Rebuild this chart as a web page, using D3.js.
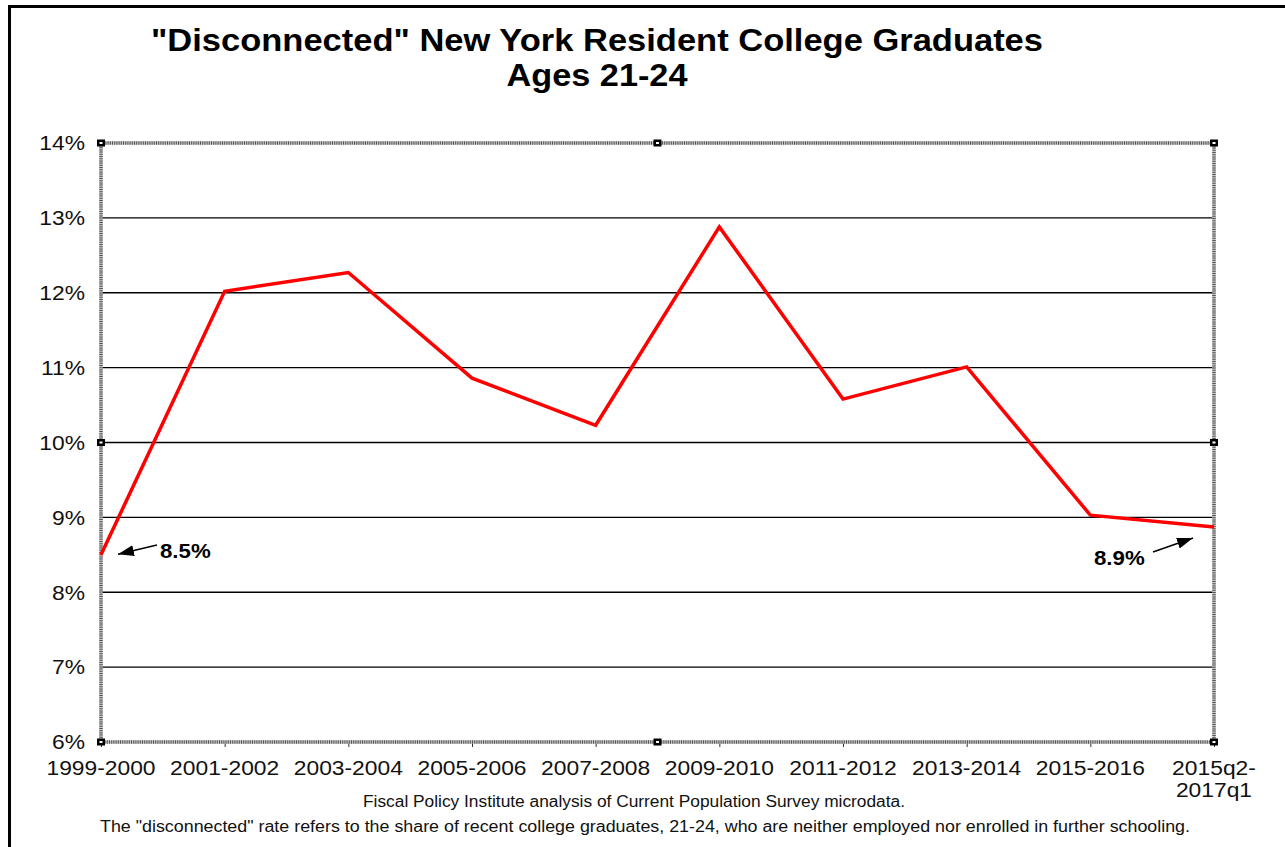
<!DOCTYPE html>
<html><head><meta charset="utf-8">
<script src="https://cdn.jsdelivr.net/npm/d3@7"></script>
<style>body{margin:0;background:#fff}svg{display:block}text{font-family:"Liberation Sans",Arial,Helvetica,sans-serif}</style>
</head><body><svg id="c" width="1285" height="847"></svg>
<script>
const categories = ["1999-2000","2001-2002","2003-2004","2005-2006","2007-2008","2009-2010","2011-2012","2013-2014","2015-2016","2015q2-2017q1"];
const rates = [8.5, 12.02, 12.27, 10.86, 10.23, 12.88, 10.58, 11.01, 9.03, 8.87];
const yTicks = [6,7,8,9,10,11,12,13,14];
const titleLines = ["\"Disconnected\" New York Resident College Graduates","Ages 21-24"];
const footerLines = ["Fiscal Policy Institute analysis of Current Population Survey microdata.",
 "The \"disconnected\" rate refers to the share of recent college graduates, 21-24, who are neither employed nor enrolled in further schooling."];

const svg = d3.select("#c");
const L=101, R=1214, T=143, B=742;
const x = d3.scalePoint().domain(categories).range([L,R]);
const y = d3.scaleLinear().domain([6,14]).range([B,T]);

// stretch text horizontally by factor (reference font renders wider)
function stretch(sel, f){
  sel.each(function(){
    const w = this.getComputedTextLength();
    d3.select(this).attr("textLength", w*f).attr("lengthAdjust","spacingAndGlyphs");
  });
}

// outer frame (top and left)
svg.append("path").attr("d","M9.5,847 V6.5 H1285").attr("fill","none").attr("stroke","#000").attr("stroke-width",3);

// title
svg.append("text").attr("x",597).attr("y",51).attr("text-anchor","middle").attr("font-weight","bold").attr("font-size",30.5)
 .attr("textLength",892).attr("lengthAdjust","spacingAndGlyphs").text(titleLines[0]);
svg.append("text").attr("x",597).attr("y",86).attr("text-anchor","middle").attr("font-weight","bold").attr("font-size",30.5)
 .attr("textLength",181).attr("lengthAdjust","spacingAndGlyphs").text(titleLines[1]);

// gridlines
svg.append("g").selectAll("line").data(yTicks.filter(d=>d>6&&d<14)).join("line")
 .attr("x1",L).attr("x2",R).attr("y1",d=>y(d)).attr("y2",d=>y(d)).attr("stroke","#000").attr("stroke-width",1.4);

// x axis ticks
const xAxis = svg.append("g").attr("transform",`translate(0,${B})`)
 .call(d3.axisBottom(x).tickSize(5).tickFormat(""));
xAxis.select(".domain").remove();
xAxis.selectAll("line").attr("stroke","#333");

// hatched plot border
svg.append("rect").attr("x",L).attr("y",T).attr("width",R-L).attr("height",B-T).attr("fill","none")
 .attr("stroke","#c4c4c4").attr("stroke-width",3.5);
svg.append("rect").attr("x",L).attr("y",T).attr("width",R-L).attr("height",B-T).attr("fill","none")
 .attr("stroke","#555").attr("stroke-width",3.5).attr("stroke-dasharray","1,1.2");

// y axis labels
const yAxis = svg.append("g").attr("transform",`translate(${L},0)`)
 .call(d3.axisLeft(y).tickValues(yTicks).tickFormat(d=>d+"%").tickSize(0).tickPadding(16));
yAxis.select(".domain").remove();
yAxis.selectAll("text").attr("font-size",19.5).attr("fill","#111").attr("font-family","Liberation Sans, Arial, sans-serif").attr("dy","0.35em");
stretch(yAxis.selectAll("text"), 1.17);

// x labels
const xl = svg.append("g");
categories.forEach(c=>{
  const parts = c==="2015q2-2017q1" ? ["2015q2-","2017q1"] : [c];
  parts.forEach((p,i)=>{
    xl.append("text").attr("x",x(c)).attr("y",775+i*22).attr("text-anchor","middle").attr("font-size",19.5).attr("fill","#111").text(p);
  });
});
stretch(xl.selectAll("text"), 1.17);

// handles
const handles = [[L,T],[(L+R)/2,T],[R,T],[R,(T+B)/2],[R,B],[(L+R)/2,B],[L,B],[L,(T+B)/2]];
const hg = svg.append("g");
hg.selectAll("rect.h").data(handles).join("rect").attr("class","h")
 .attr("x",d=>d[0]-4).attr("y",d=>d[1]-3.5).attr("width",8).attr("height",7).attr("fill","#000");
hg.selectAll("rect.i").data(handles).join("rect").attr("class","i")
 .attr("x",d=>d[0]-1.5).attr("y",d=>d[1]-1).attr("width",3).attr("height",2).attr("fill","#fff");

// line
svg.append("path").datum(rates).attr("fill","none").attr("stroke","#ff0000").attr("stroke-width",3.5)
 .attr("stroke-linejoin","miter")
 .attr("d",d3.line().x((d,i)=>x(categories[i])).y(d=>y(d)));

// annotations
const defs = svg.append("defs");
defs.append("marker").attr("id","ah").attr("viewBox","0 0 16 11").attr("refX",16).attr("refY",5.5)
 .attr("markerWidth",16).attr("markerHeight",11).attr("markerUnits","userSpaceOnUse").attr("orient","auto")
 .append("path").attr("d","M0,0 L16,5.5 L0,11 Z").attr("fill","#000");
const first = rates[0], last = rates[rates.length-1];
svg.append("line").attr("x1",157).attr("y1",545).attr("x2",x(categories[0])+17).attr("y2",y(first)-0.5)
 .attr("stroke","#000").attr("stroke-width",1.5).attr("marker-end","url(#ah)");
const a1 = svg.append("text").attr("x",160).attr("y",558).attr("font-weight","bold").attr("font-size",19.5).text(first.toFixed(1)+"%");
svg.append("line").attr("x1",1153).attr("y1",552).attr("x2",1193).attr("y2",538)
 .attr("stroke","#000").attr("stroke-width",1.5).attr("marker-end","url(#ah)");
const a2 = svg.append("text").attr("x",1094).attr("y",565).attr("font-weight","bold").attr("font-size",19.5).text(last.toFixed(1)+"%");
stretch(a1,1.14); stretch(a2,1.14);

// footer
svg.append("text").attr("x",634).attr("y",807).attr("text-anchor","middle").attr("font-size",16).attr("fill","#111")
 .attr("textLength",542).attr("lengthAdjust","spacingAndGlyphs").text(footerLines[0]);
svg.append("text").attr("x",645).attr("y",832).attr("text-anchor","middle").attr("font-size",16).attr("fill","#111")
 .attr("textLength",1090).attr("lengthAdjust","spacingAndGlyphs").text(footerLines[1]);
</script></body></html>
